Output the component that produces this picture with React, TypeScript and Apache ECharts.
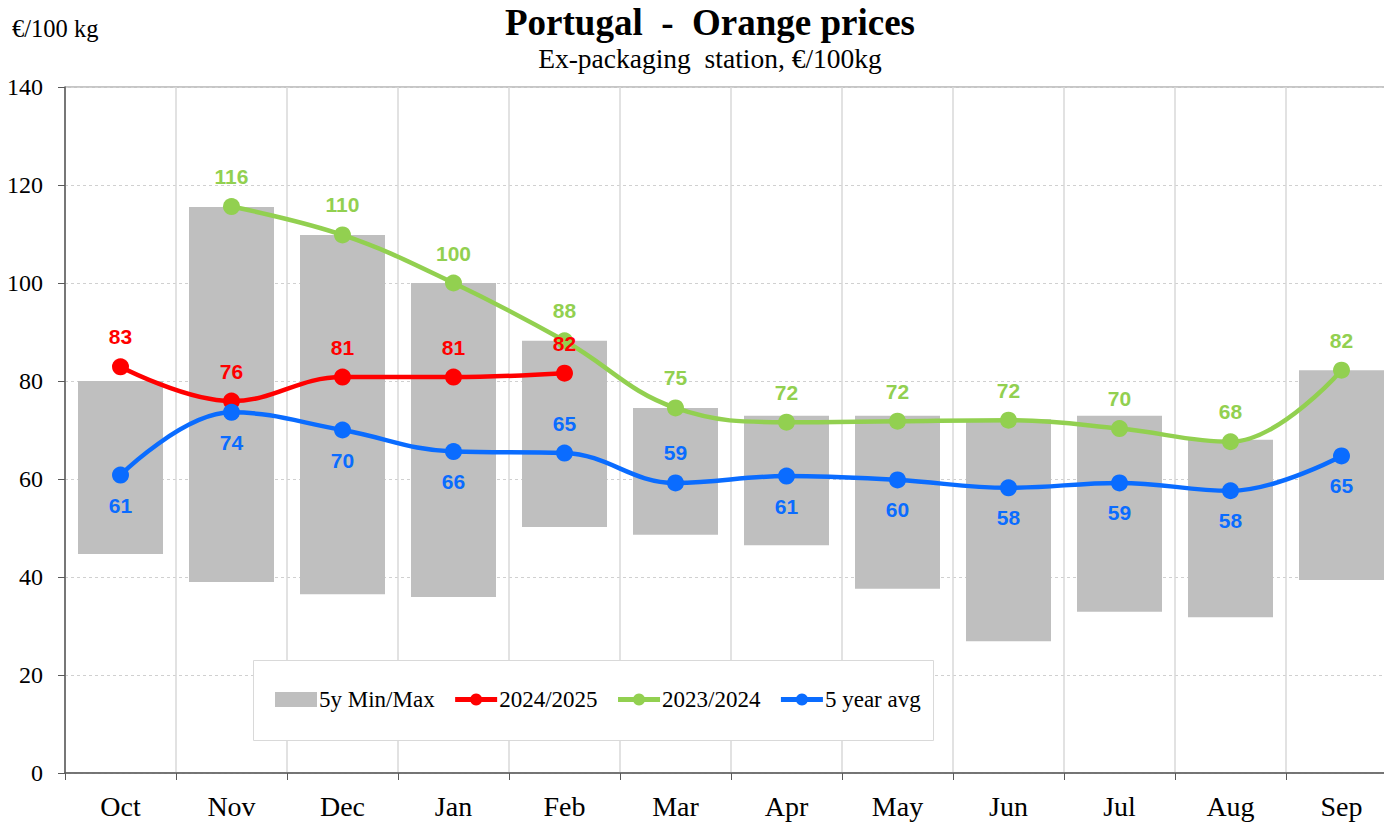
import React, { useEffect, useRef } from "react";
import * as echarts from "echarts";

const months = ["Oct", "Nov", "Dec", "Jan", "Feb", "Mar", "Apr", "May", "Jun", "Jul", "Aug", "Sep"];
const minMaxLow = [44.7, 39.0, 36.5, 35.9, 50.2, 48.6, 46.5, 37.6, 26.9, 32.9, 31.8, 39.4];
const minMaxHigh = [80.0, 115.5, 109.8, 100.0, 88.2, 74.5, 72.9, 72.9, 72.2, 72.9, 68.0, 82.2];
const season2425: (number | null)[] = [82.9, 75.9, 80.8, 80.8, 81.6, null, null, null, null, null, null, null];
const season2324: (number | null)[] = [null, 115.6, 109.8, 100.0, 88.2, 74.5, 71.6, 71.8, 72.0, 70.3, 67.6, 82.2];
const avg5y = [60.8, 73.6, 70.0, 65.6, 65.3, 59.2, 60.6, 59.8, 58.2, 59.2, 57.6, 64.7];
const yTicks = { min: 0, max: 140, interval: 20 };
const blueLabelAbove = ["Feb", "Mar"];

const SERIF = "'Liberation Serif', 'Times New Roman', serif";
const SANS = "'Liberation Sans', Arial, sans-serif";
const RED = "#FF0000";
const GREEN = "#92D050";
const BLUE = "#0A6CFF";
const GREY = "#BFBFBF";

export default function App() {
  const ref = useRef<HTMLDivElement>(null);
  useEffect(() => {
    if (!ref.current) return;
    const chart = echarts.init(ref.current, undefined, { renderer: "svg" });
    const labelStyle = (color: string, pos: string) => ({
      show: true,
      position: pos,
      distance: 11,
      color,
      fontFamily: SANS,
      fontWeight: "bold",
      fontSize: 21,
      formatter: (p: any) => (p.value == null ? "" : String(Math.round(p.value))),
    });
    const lineSeries = (name: string, data: (number | null)[], color: string, pos: string) => ({
      name,
      type: "line",
      data,
      smooth: 0.4,
      symbol: "circle",
      symbolSize: 17,
      showSymbol: true,
      connectNulls: false,
      z: 5,
      itemStyle: { color },
      lineStyle: { color, width: 4.5 },
      label: labelStyle(color, pos),
    });
    const option: any = {
      animation: false,
      backgroundColor: "#ffffff",
      grid: {
        left: 65,
        top: 87,
        bottom: 53,
        right: 0,
        show: true,
        borderColor: "#8c8c8c",
        borderWidth: 1,
        containLabel: false,
      },
      graphic: [
        {
          type: "text",
          x: 710,
          y: 22,
          style: {
            text: "Portugal  -  Orange prices",
            fontFamily: SERIF,
            fontWeight: "bold",
            fontSize: 37,
            fill: "#000",
            align: "center",
            verticalAlign: "middle",
          },
        },
        {
          type: "text",
          x: 710,
          y: 58,
          style: {
            text: "Ex-packaging  station, €/100kg",
            fontFamily: SERIF,
            fontSize: 27.5,
            fill: "#000",
            align: "center",
            verticalAlign: "middle",
          },
        },
        {
          type: "text",
          x: 12,
          y: 28,
          style: {
            text: "€/100 kg",
            fontFamily: SERIF,
            fontSize: 24.5,
            fill: "#000",
            align: "left",
            verticalAlign: "middle",
          },
        },
        {
          type: "rect",
          z: 3,
          shape: { x: 253.5, y: 660.5, width: 680, height: 80 },
          style: { fill: "#ffffff", stroke: "#d9d9d9", lineWidth: 1 },
        },
      ],
      legend: {
        left: 275,
        top: 688,
        padding: 0,
        itemGap: 18,
        itemWidth: 42,
        itemHeight: 15,
        z: 6,
        lineStyle: { width: 5 },
        textStyle: { fontFamily: SERIF, fontSize: 23, color: "#000", padding: [0, 0, 0, -3] },
        data: [
          { name: "5y Min/Max", icon: "rect" },
          { name: "2024/2025" },
          { name: "2023/2024" },
          { name: "5 year avg" },
        ],
      },
      xAxis: {
        type: "category",
        data: months,
        boundaryGap: true,
        axisLine: { show: true, lineStyle: { color: "#595959", width: 1.5 } },
        axisTick: { show: true, length: 7, lineStyle: { color: "#595959", width: 1 } },
        splitLine: { show: true, lineStyle: { color: "#d9d9d9", width: 1.5 } },
        axisLabel: { fontFamily: SERIF, fontSize: 28, color: "#000", margin: 19 },
      },
      yAxis: {
        type: "value",
        min: yTicks.min,
        max: yTicks.max,
        interval: yTicks.interval,
        axisLine: { show: true, lineStyle: { color: "#595959", width: 1.5 } },
        axisTick: { show: true, length: 7, lineStyle: { color: "#595959" } },
        splitLine: { show: true, lineStyle: { color: "#d0d0d0", width: 1, type: [3, 3] } },
        axisLabel: { fontFamily: SERIF, fontSize: 24, color: "#000", margin: 22 },
      },
      series: [
        {
          name: "base",
          type: "bar",
          stack: "mm",
          data: minMaxLow,
          barWidth: 85,
          itemStyle: { color: "transparent" },
          silent: true,
          z: 2,
        },
        {
          name: "5y Min/Max",
          type: "bar",
          stack: "mm",
          data: minMaxHigh.map((h, i) => +(h - minMaxLow[i]).toFixed(2)),
          barWidth: 85,
          itemStyle: { color: GREY },
          z: 2,
        },
        lineSeries("2024/2025", season2425, RED, "top"),
        lineSeries("2023/2024", season2324, GREEN, "top"),
        {
          ...lineSeries("5 year avg", avg5y as any, BLUE, "bottom"),
          data: avg5y.map((v, i) =>
            blueLabelAbove.includes(months[i]) ? { value: v, label: { position: "top" } } : v
          ),
        },
      ],
    };
    chart.setOption(option);
    return () => chart.dispose();
  }, []);
  return (
    <div
      ref={ref}
      style={{ position: "fixed", left: 0, top: 0, width: 1397, height: 826, background: "#fff" }}
    />
  );
}
